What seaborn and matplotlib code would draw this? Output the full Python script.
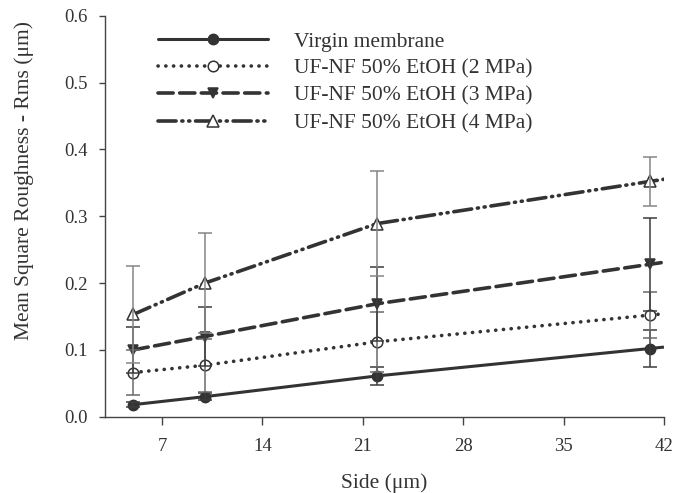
import numpy as np
import pandas as pd
import matplotlib
matplotlib.use("Agg")
import matplotlib.pyplot as plt
from matplotlib.lines import Line2D
import seaborn as sns

# Scan side length (um) at which roughness was measured
side = [5, 10, 22, 41]

# Rms roughness (um) and standard deviations per membrane
virgin = [0.018, 0.030, 0.061, 0.102]
virgin_err = [0.004, 0.005, 0.013, 0.027]
mpa2 = [0.066, 0.077, 0.112, 0.152]
mpa2_err = [0.034, 0.040, 0.045, 0.034]
mpa3 = [0.100, 0.120, 0.169, 0.228]
mpa3_err = [0.034, 0.044, 0.055, 0.070]
mpa4 = [0.153, 0.200, 0.289, 0.352]
mpa4_err = [0.073, 0.075, 0.079, 0.037]

labels = ["Virgin membrane", "UF-NF 50% EtOH (2 MPa)",
          "UF-NF 50% EtOH (3 MPa)", "UF-NF 50% EtOH (4 MPa)"]
x_ticks = [7, 14, 21, 28, 35, 42]
y_ticks = [0.0, 0.1, 0.2, 0.3, 0.4, 0.5, 0.6]
XMIN, XMAX = 3, 42

sns.set_theme(style="ticks")
plt.rcParams["font.family"] = ["Liberation Serif", "DejaVu Serif"]

INK = "#333333"
styles = [
    dict(ls="-", lw=2.2, marker="o", mfc=INK, ms=7.4, ecol="#3c3c3c"),
    dict(ls=(0, (0.05, 2.1)), lw=2.6, marker="o", mfc="white", ms=7.6, ecol="#6a6a6a"),
    dict(ls=(0, (4.2, 1.8)), lw=2.6, marker="v", mfc=INK, ms=7.6, ecol="#3c3c3c"),
    dict(ls=(0, (5.0, 1.6, 0.3, 1.6, 0.3, 1.6)), lw=2.6, marker="^", mfc="white", ms=8.0, ecol="#858585"),
]
series = [(virgin, virgin_err), (mpa2, mpa2_err), (mpa3, mpa3_err), (mpa4, mpa4_err)]

fig = plt.figure(figsize=(6.73, 4.93), dpi=100)
ax = fig.add_axes([0.1554, 0.1548, 0.8312, 0.8132])

handles = []
for (vals, errs), st, lab in zip(series, styles, labels):
    # continue the last segment out to the right edge of the axis
    slope = (vals[-1] - vals[-2]) / (side[-1] - side[-2])
    xs = list(side) + [XMAX]
    ys = list(vals) + [vals[-1] + slope * (XMAX - side[-1])]
    df = pd.DataFrame({"side": xs, "rms": ys})
    sns.lineplot(data=df, x="side", y="rms", ax=ax, color=INK, lw=st["lw"],
                 linestyle=st["ls"], dash_capstyle="round", solid_capstyle="butt",
                 marker=st["marker"], markevery=list(range(len(side))),
                 markersize=st["ms"], markerfacecolor=st["mfc"],
                 markeredgecolor=INK, markeredgewidth=1.1,
                 errorbar=None, sort=False, zorder=3)
    ax.errorbar(side, vals, yerr=errs, fmt="none", ecolor=st["ecol"],
                elinewidth=1.1, capsize=5, capthick=1.1, zorder=5)
    handles.append(Line2D([], [], color=INK, lw=st["lw"], linestyle=st["ls"],
                          dash_capstyle="round", marker=st["marker"],
                          markersize=st["ms"], markerfacecolor=st["mfc"],
                          markeredgecolor=INK, markeredgewidth=1.1))

ax.set_xlim(XMIN, XMAX)
ax.set_ylim(0, 0.6)
ax.set_xticks(x_ticks)
ax.set_yticks(y_ticks)
ax.set_yticklabels([f"{v:.1f}" for v in y_ticks])
sns.despine(ax=ax)
for sp in ("left", "bottom"):
    ax.spines[sp].set_color("#444444")
    ax.spines[sp].set_linewidth(1.0)
ax.tick_params(axis="both", colors="#444444", labelcolor="#333333",
               labelsize=13.5, width=1.0)
ax.tick_params(axis="x", length=5.5, pad=10)
ax.tick_params(axis="y", length=4, pad=8)

ax.set_xlabel("Side (μm)", fontsize=15.5, color="#333333")
ax.set_ylabel("Mean Square Roughness - Rms (μm)", fontsize=15.5, color="#333333")
ax.xaxis.set_label_coords(0.5, -0.142)
ax.yaxis.set_label_coords(-0.127, 0.59)

leg = fig.legend(handles, labels, loc="upper left", bbox_to_anchor=(0.2348, 0.936),
                 frameon=False, fontsize=15.5, handlelength=5.1, handletextpad=1.2,
                 labelspacing=0.33, borderpad=0, borderaxespad=0, numpoints=1)
for t in leg.get_texts():
    t.set_color("#333333")

fig.savefig("out.png", dpi=100)
